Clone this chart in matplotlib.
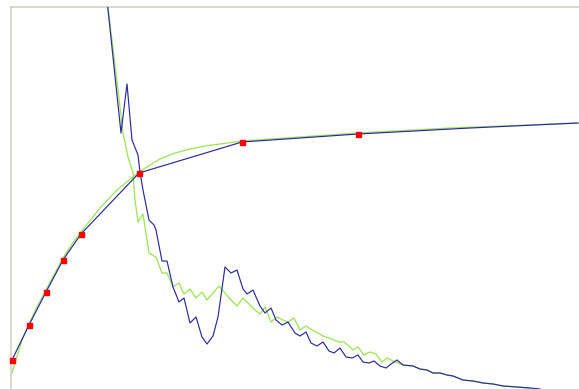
import matplotlib
matplotlib.use("Agg")
import matplotlib.pyplot as plt

# Rising series: sampled points (blue) and fitted curve (green)
rise_x = [12, 29, 46, 63, 81, 139, 242, 358, 470, 578]
rise_y = [29, 64, 97, 129, 155, 216, 247, 255, 261, 266]
marker_x = [12, 29, 46, 63, 81, 139, 242, 358]
marker_y = [29, 64, 97, 129, 155, 216, 247, 255]

fit_x = [12, 17, 22, 29, 37, 46, 55, 63, 72, 81, 100, 117, 139, 150, 160,
         175, 190, 205, 220, 242, 300, 358, 450, 578]
fit_y = [16, 33, 49, 65, 82, 99, 116, 131, 145, 157, 181, 199, 217, 224, 230,
         236, 240, 243, 245, 248, 252, 256, 261, 266]

# Falling series: measured (blue) and reference (green)
fall_x = [107, 121, 127, 132, 138, 140, 143, 149, 151, 154, 156, 162, 167,
          173, 179, 184, 190, 196, 202, 207, 213, 218, 225, 231, 237, 243,
          247, 253, 260, 265, 271, 276, 282, 288, 295, 300, 306, 311, 317,
          323, 329, 334, 340, 346, 352, 358, 363, 369, 374, 380, 386, 391,
          397, 403, 413, 420, 427, 433, 440, 447, 453, 463, 473, 483, 493,
          503, 517, 530, 540]
fall_y = [389, 256, 305, 249, 234, 217, 199, 169, 167, 164, 159, 128, 128,
          102, 87, 91, 66, 72, 52, 45, 53, 72, 122, 116, 119, 100,
          95, 99, 83, 76, 81, 69, 64, 67, 56, 53, 57, 46, 43,
          47, 38, 36, 41, 32, 31, 34, 27, 26, 28, 23, 21, 25,
          29, 24, 23, 20, 19, 16, 16, 14, 13, 9, 8, 6, 5,
          3, 2, 1, 0]

ref_x = [107, 112, 118, 123, 128, 133, 135, 138, 143, 149, 154, 156, 162,
         167, 173, 179, 184, 190, 196, 202, 207, 213, 219, 225, 231, 237,
         243, 249, 255, 260, 265, 271, 277, 283, 288, 294, 300, 306, 312,
         318, 323, 329, 334, 339, 344, 350, 353, 358, 364, 370, 376, 382,
         387, 393, 398, 403, 413, 420, 427, 433, 440, 447, 453, 463, 473,
         483, 493, 503, 517, 530]
ref_y = [389, 349, 299, 256, 232, 216, 189, 167, 175, 136, 133, 132, 116,
         116, 102, 106, 95, 100, 91, 97, 89, 96, 103, 96, 89, 83,
         91, 85, 79, 75, 82, 67, 72, 69, 67, 71, 59, 63, 59,
         56, 53, 51, 49, 47, 47, 42, 39, 42, 34, 37, 35, 27,
         31, 28, 26, 24, 23, 20, 19, 16, 16, 14, 13, 9, 8,
         6, 5, 3, 2, 1]

BLUE = "#2a2a9e"
GREEN = "#9fe55a"
RED = "#ff0000"
FRAME = "#d4d0c8"

fig = plt.figure(figsize=(5.79, 3.89), dpi=100)
fig.patch.set_facecolor("white")
ax = fig.add_axes([11 / 579, 0, 568 / 579, 382 / 389])
ax.set_xlim(11, 579)
ax.set_ylim(0, 382)

ax.plot(fit_x, fit_y, color=GREEN, lw=0.95, zorder=2)
ax.plot(ref_x, ref_y, color=GREEN, lw=0.95, zorder=2)
ax.plot(rise_x, rise_y, color=BLUE, lw=0.85, zorder=3)
ax.plot(fall_x, fall_y, color=BLUE, lw=0.85, zorder=3)
ax.plot(marker_x, marker_y, ls="none", marker="s", ms=3.6,
        mfc=RED, mec=RED, zorder=4, clip_on=False)

for side in ("right", "bottom"):
    ax.spines[side].set_visible(False)
for side in ("top", "left"):
    ax.spines[side].set_color(FRAME)
    ax.spines[side].set_linewidth(1.2)
ax.set_xticks([])
ax.set_yticks([])

fig.savefig("out.png", dpi=100, facecolor="white")
